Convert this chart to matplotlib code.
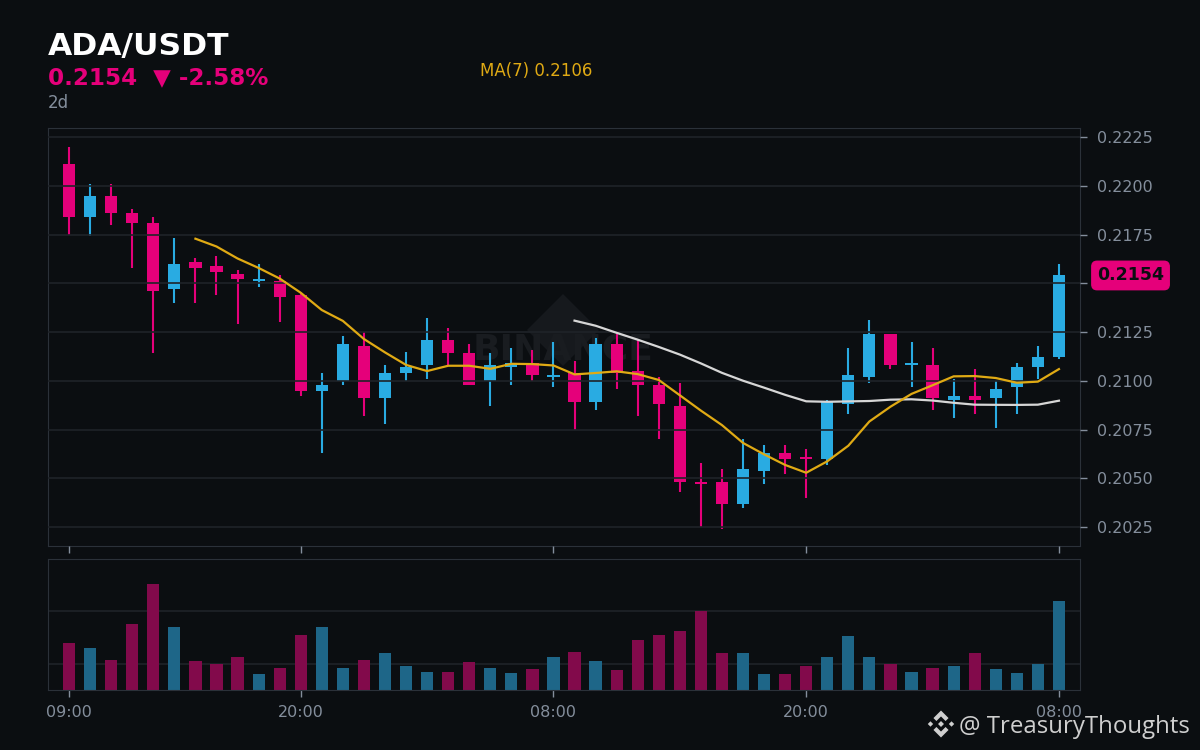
import numpy as np
import pandas as pd
import matplotlib
matplotlib.use('Agg')
import matplotlib.pyplot as plt
from matplotlib.patches import Polygon

# hourly candles, ADA/USDT, starting 09:00
opens = [0.2211, 0.2184, 0.2195, 0.2186, 0.2181, 0.2147, 0.2161, 0.2159, 0.2155, 0.2151,
         0.2151, 0.2144, 0.2095, 0.2100, 0.2118, 0.2091, 0.2104, 0.2108, 0.2121, 0.2114,
         0.2100, 0.2107, 0.2109, 0.2102, 0.2104, 0.2089, 0.2119, 0.2105, 0.2098, 0.2087,
         0.2048, 0.2048, 0.2037, 0.2054, 0.2063, 0.2061, 0.2060, 0.2088, 0.2102, 0.2124,
         0.2108, 0.2108, 0.2090, 0.2092, 0.2091, 0.2097, 0.2107, 0.2112]
highs = [0.2220, 0.2201, 0.2201, 0.2188, 0.2184, 0.2173, 0.2163, 0.2164, 0.2157, 0.2160,
         0.2154, 0.2145, 0.2104, 0.2123, 0.2125, 0.2108, 0.2115, 0.2132, 0.2127, 0.2119,
         0.2114, 0.2117, 0.2116, 0.2120, 0.2110, 0.2122, 0.2124, 0.2121, 0.2102, 0.2099,
         0.2058, 0.2055, 0.2070, 0.2067, 0.2067, 0.2065, 0.2090, 0.2117, 0.2131, 0.2124,
         0.2120, 0.2117, 0.2101, 0.2106, 0.2100, 0.2109, 0.2118, 0.2160]
lows = [0.2175, 0.2174, 0.2180, 0.2158, 0.2114, 0.2140, 0.2140, 0.2144, 0.2129, 0.2148,
        0.2130, 0.2092, 0.2063, 0.2098, 0.2082, 0.2078, 0.2100, 0.2101, 0.2108, 0.2098,
        0.2087, 0.2098, 0.2100, 0.2097, 0.2075, 0.2085, 0.2096, 0.2082, 0.2070, 0.2043,
        0.2025, 0.2024, 0.2035, 0.2047, 0.2052, 0.2040, 0.2057, 0.2083, 0.2099, 0.2106,
        0.2097, 0.2085, 0.2081, 0.2083, 0.2076, 0.2083, 0.2101, 0.2111]
closes = [0.2184, 0.2195, 0.2186, 0.2181, 0.2146, 0.2160, 0.2158, 0.2156, 0.2152, 0.2152,
          0.2143, 0.2095, 0.2098, 0.2119, 0.2091, 0.2104, 0.2107, 0.2121, 0.2114, 0.2098,
          0.2108, 0.2109, 0.2103, 0.2102, 0.2089, 0.2119, 0.2104, 0.2098, 0.2088, 0.2048,
          0.2047, 0.2037, 0.2055, 0.2063, 0.2060, 0.2060, 0.2089, 0.2103, 0.2124, 0.2108,
          0.2109, 0.2091, 0.2092, 0.2090, 0.2096, 0.2107, 0.2112, 0.2154]
volumes = [3.6, 3.2, 2.3, 5.0, 8.1, 4.8, 2.2, 2.0, 2.5, 1.2,
           1.7, 4.2, 4.8, 1.7, 2.3, 2.8, 1.8, 1.4, 1.4, 2.1,
           1.7, 1.3, 1.6, 2.5, 2.9, 2.2, 1.5, 3.8, 4.2, 4.5,
           6.0, 2.8, 2.8, 1.2, 1.2, 1.8, 2.5, 4.1, 2.5, 2.0,
           1.4, 1.7, 1.8, 2.8, 1.6, 1.3, 2.0, 6.8]
tick_pos = [0, 11, 23, 35, 47]
tick_labels = ['09:00', '20:00', '08:00', '20:00', '08:00']
price_ticks = [0.2025, 0.2050, 0.2075, 0.2100, 0.2125, 0.2150, 0.2175, 0.2200, 0.2225]

BG = '#0b0e11'
GRID = '#1f2328'
SPINE = '#2b3139'
TXT = '#848e9c'
UP = '#29abe2'
DOWN = '#e5007a'
UP_VOL = '#1e6688'
DOWN_VOL = '#820a4b'

df = pd.DataFrame({'open': opens, 'high': highs, 'low': lows, 'close': closes, 'vol': volumes})
df['ma7'] = df['close'].rolling(window=7).mean()
df['ma25'] = df['close'].rolling(window=25).mean()
x = np.arange(len(df))
up = df['close'] >= df['open']
colors = np.where(up, UP, DOWN)
vcolors = np.where(up, UP_VOL, DOWN_VOL)
body_lo = np.minimum(df['open'], df['close'])
body_h = np.maximum(np.abs(df['close'] - df['open']), 0.00008)


def px(xp, yp):
    return (xp / 1200, 1 - yp / 750)


fig = plt.figure(figsize=(12, 7.5), dpi=100, facecolor=BG)
ax = fig.add_axes([0.04, 0.272, 0.86, 0.5573], facecolor=BG)
ax2 = fig.add_axes([0.04, 0.08, 0.86, 0.1747], facecolor=BG)

# faint watermark behind candles
ax.add_patch(Polygon([px(563, 294), px(599, 330), px(563, 366), px(527, 330)],
                     closed=True, transform=fig.transFigure, facecolor='#16191d',
                     edgecolor='none', zorder=0.3))
ax.text(*px(563, 349), 'BINANCE', transform=fig.transFigure, ha='center', va='center',
        fontsize=26, fontweight='bold', color='#191c20', zorder=0.4)

ax.vlines(x, df['low'], df['high'], colors=colors, lw=1.5, zorder=1)
ax.bar(x, body_h, bottom=body_lo, width=0.58, color=colors, zorder=1)
ax.plot(x, df['ma25'], color='#d6d6d6', lw=1.6, zorder=3)
ax.plot(x, df['ma7'], color='#e0aa14', lw=1.6, zorder=3)

ax.set_xlim(-1, 48)
ax.set_ylim(0.20153, 0.22296)
ax.set_axisbelow(False)
ax.grid(axis='y', color=GRID, lw=1.2)
ax.set_xticks(tick_pos)
ax.set_yticks(price_ticks)
ax.set_yticklabels(['' if abs(p - 0.2150) < 1e-6 else f'{p:.4f}' for p in price_ticks])
ax.yaxis.tick_right()
ax.tick_params(axis='y', colors=TXT, labelsize=11.5, length=5, width=1, pad=7)
ax.tick_params(axis='x', colors=TXT, labelbottom=False, length=5, width=1)
for s in ax.spines.values():
    s.set_color(SPINE)

ax.annotate(f'{closes[-1]:.4f}', xy=(1.0165, closes[-1]), xycoords=('axes fraction', 'data'),
            ha='left', va='center', fontsize=12.5, fontweight='bold', color='#0b0e11',
            bbox=dict(boxstyle='round,pad=0.3,rounding_size=0.3', fc=DOWN, ec=DOWN),
            annotation_clip=False)

# volume panel
ax2.bar(x, df['vol'], width=0.58, color=vcolors, zorder=2)
ax2.set_xlim(-1, 48)
ax2.set_ylim(0, 10)
ax2.set_yticks([2, 6])
ax2.grid(axis='y', color=GRID, lw=1.2, zorder=1)
ax2.set_axisbelow(True)
ax2.tick_params(axis='y', left=False, right=False, labelleft=False)
ax2.set_xticks(tick_pos)
ax2.set_xticklabels(tick_labels)
ax2.tick_params(axis='x', colors=TXT, labelsize=11.5, length=5, width=1, pad=6)
for s in ax2.spines.values():
    s.set_color(SPINE)

# header
fig.text(*px(48, 55), 'ADA/USDT', fontsize=22.6, fontweight='bold', color='white', va='baseline')
fig.text(*px(48, 84), f'{closes[-1]:.4f}  ▼ -2.58%', fontsize=16.6, fontweight='bold',
         color=DOWN, va='baseline')
fig.text(*px(48, 108), '2d', fontsize=12, color=TXT, va='baseline')
fig.text(*px(480, 76), f"MA(7) {df['ma7'].iloc[-1]:.4f}", fontsize=12, color='#e0aa14',
         va='baseline')

# footer credit with small logo
cx, cy, r = 941, 724, 13.5
lc = '#cfcfcf'


def diamond(xc, yc, h):
    return [px(xc, yc - h), px(xc + h, yc), px(xc, yc + h), px(xc - h, yc)]


for (dx, dy, h) in [(0, 0, 0.22), (-0.78, 0, 0.2), (0.78, 0, 0.2)]:
    fig.patches.append(Polygon(diamond(cx + dx * r, cy + dy * r, h * r), closed=True,
                               transform=fig.transFigure, fc=lc, ec='none'))
for sgn in (1, -1):
    pts = [(0, 1), (0.56, 0.44), (0.34, 0.22), (0, 0.56), (-0.34, 0.22), (-0.56, 0.44)]
    fig.patches.append(Polygon([px(cx + a * r, cy - sgn * b * r) for a, b in pts], closed=True,
                               transform=fig.transFigure, fc=lc, ec='none'))
fig.text(*px(959, 733), '@ TreasuryThoughts', fontsize=17.3, color=lc, va='baseline',
         family='Open Sans')

fig.savefig('out.png', dpi=100, facecolor=BG)
